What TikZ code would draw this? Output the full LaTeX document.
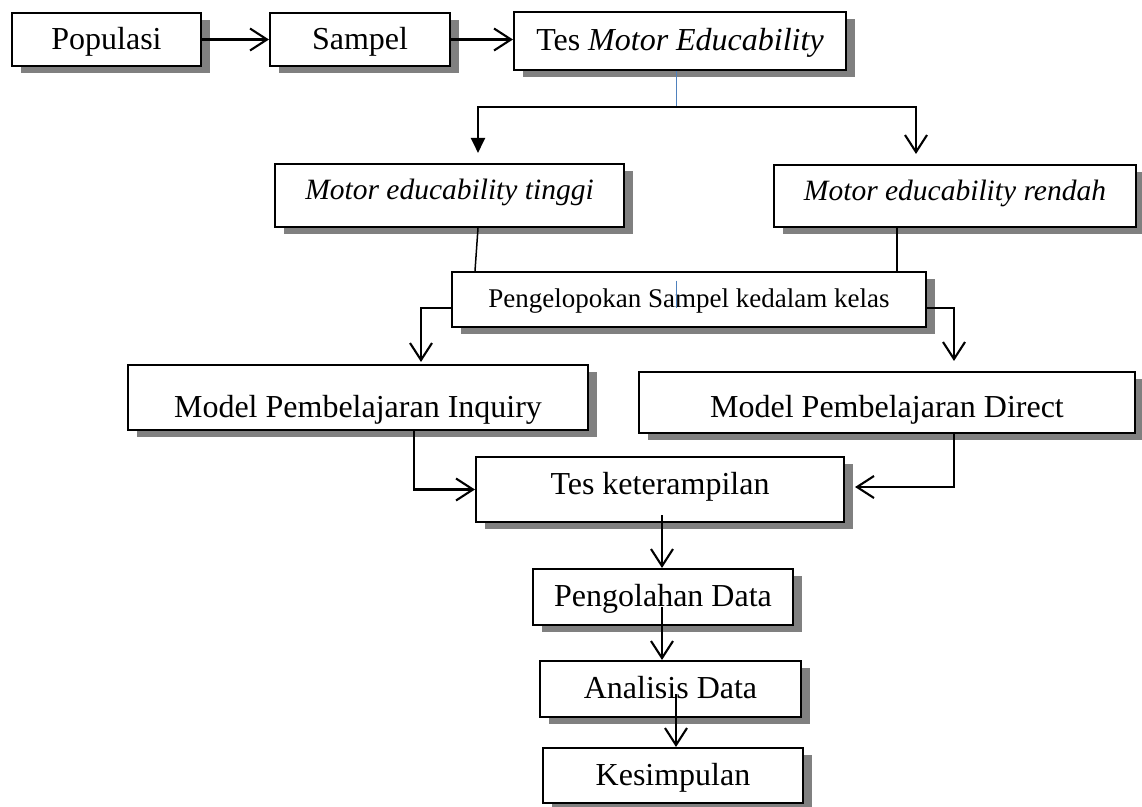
\documentclass[tikz,border=0pt]{standalone}
\usepackage{fontspec}
\setmainfont{Liberation Serif}
\usetikzlibrary{arrows.meta,shadows,calc}
\definecolor{wordblue}{HTML}{4F81BD}
\begin{document}
\begin{tikzpicture}[x=1pt,y=-1pt,
  box/.style={draw=black, line width=2.1pt, fill=white, inner sep=0pt,
    text height=22.4pt, text depth=3.2pt,
    drop shadow={shadow xshift=9pt, shadow yshift=-7pt, fill=black!50, opacity=1},
    font=\fontsize{32}{32}\selectfont},
  itbox/.style={box, text height=20.65pt, text depth=2.95pt, font=\fontsize{29.5}{29.5}\selectfont\itshape},
  smallbox/.style={box, text height=18.9pt, text depth=2.7pt, font=\fontsize{27}{27}\selectfont},
  conn/.style={line width=2.1pt},
  thinconn/.style={line width=1.5pt},
  arr/.style={conn, -{Straight Barb[length=17pt,width=22pt,line width=2.1pt]}},
  tri/.style={conn, -{Triangle[length=15pt,width=14pt]}},
  blueline/.style={draw=wordblue, line width=1pt}]
\path[fill=white] (0,0) rectangle (1142,806);
\useasboundingbox (0,0) rectangle (1142,806);

% boxes
\node[box, minimum width=189pt, minimum height=53pt] (pop) at (106.5,39.5) {Populasi};
\node[box, minimum width=180pt, minimum height=53pt] (samp) at (360,39.5) {Sampel};
\node[box, minimum width=332pt, minimum height=58pt] (tes) at (680,41) {Tes \textit{Motor Educability}};
\node[itbox, minimum width=349pt, minimum height=63pt] (tinggi) at (449.5,195.5) {\raisebox{4.5pt}{Motor educability tinggi}};
\node[itbox, minimum width=362pt, minimum height=62pt] (rendah) at (955,196) {\raisebox{4pt}{Motor educability rendah}};
\node[smallbox, minimum width=474pt, minimum height=55pt] (kelompok) at (689,299.5) {Pengelopokan Sampel kedalam kelas};
\node[box, minimum width=460pt, minimum height=65pt] (inquiry) at (358,397.5) {\raisebox{-10.5pt}{Model Pembelajaran Inquiry}};
\node[box, minimum width=496pt, minimum height=61pt] (direct) at (887,402.5) {\raisebox{-5.5pt}{Model Pembelajaran Direct}};
\node[box, minimum width=368pt, minimum height=65pt] (tesket) at (660,489.5) {\raisebox{4.5pt}{Tes keterampilan}};
\node[box, minimum width=260pt, minimum height=56pt] (olah) at (663,597) {Pengolahan Data};
\node[box, minimum width=261pt, minimum height=56pt] (analisis) at (670.5,689) {Analisis Data};
\node[box, minimum width=260pt, minimum height=55pt] (simpul) at (673,775.5) {Kesimpulan};

% text cursor mark inside the grouping box
\draw[blueline] ([xshift=-13pt,yshift=19pt]kelompok.center) -- ([xshift=-13pt,yshift=-8.5pt]kelompok.center);

% connectors
\draw[arr] (pop.east) -- (samp.west);
\draw[arr] (samp.east) -- (tes.west |- samp.east);

\coordinate (split) at (676,107);
\coordinate (lt) at (478,107);
\coordinate (rt) at (916,107);
\draw[blueline] (tes.south -| split) -- (split);
\draw[tri, shorten >=10pt] (split) -- (lt) -- (lt |- tinggi.north);
\draw[arr, shorten >=10pt] (split) -- (rt) -- (rt |- rendah.north);

\draw[thinconn] ([xshift=28.5pt]tinggi.south) -- ([xshift=-214pt]kelompok.north);
\draw[thinconn] ([xshift=-58pt]rendah.south) -- ([xshift=-58pt]rendah.south |- kelompok.north);

\draw[arr, shorten >=2pt] ([yshift=-8.5pt]kelompok.west) -| ([xshift=63pt]inquiry.north);
\draw[arr, shorten >=10pt] ([yshift=-8.5pt]kelompok.east) -| ([xshift=67pt]direct.north);

\draw[arr] ([xshift=56pt]inquiry.south) |- (tesket.west);
\draw[arr] ([xshift=67pt]direct.south) |- ([xshift=10pt,yshift=2.5pt]tesket.east);

\draw[arr] ([xshift=2pt,yshift=8pt]tesket.south) -- ([xshift=-1pt]olah.north);
\draw[arr] ([xshift=-1pt,yshift=19pt]olah.south) -- ([xshift=-8.5pt]analisis.north);
\draw[arr] ([xshift=5.5pt,yshift=24pt]analisis.south) -- ([xshift=3pt]simpul.north);
\end{tikzpicture}
\end{document}
